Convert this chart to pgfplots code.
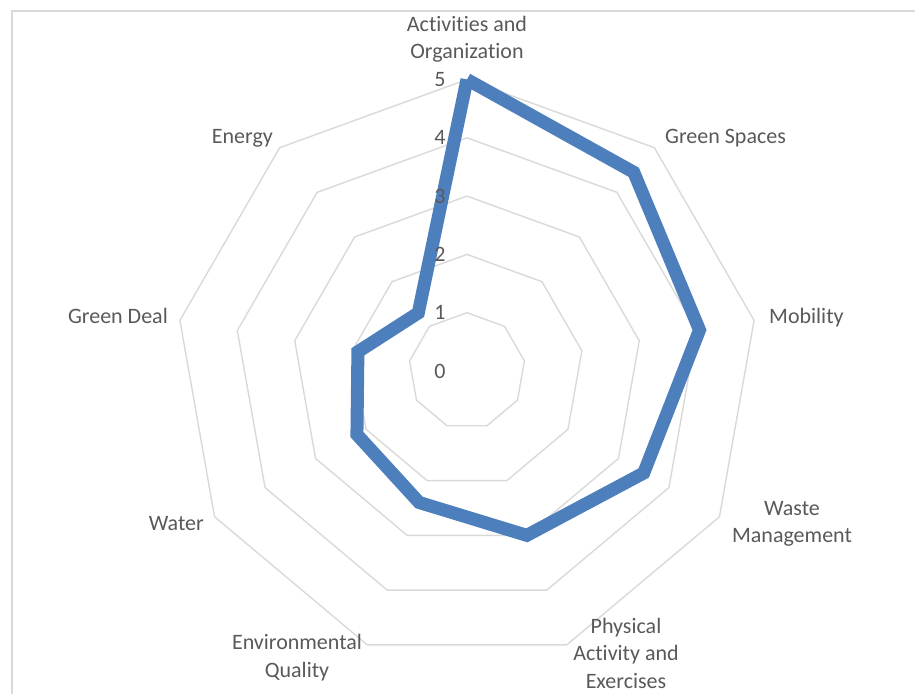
\documentclass[border=0pt]{standalone}
\usepackage{fontspec}
\setmainfont{Carlito}[Ligatures=NoCommon]
\usepackage{pgfplots}
\pgfplotsset{compat=1.18}
\usepgfplotslibrary{polar}
\definecolor{txt}{HTML}{595959}
\definecolor{gridc}{HTML}{D9D9D9}
\definecolor{serie}{HTML}{4E7FBD}
\begin{document}
\begin{tikzpicture}[lbl/.style={text=txt,font=\fontsize{22}{27}\selectfont,inner sep=0pt}]
\useasboundingbox (0,0) rectangle (915pt,693pt);
\draw[gridc,line width=1.2pt] (12pt,-20pt) rectangle (940pt,682pt);
\begin{polaraxis}[
  at={(467pt,322pt)}, anchor=center,
  scale only axis, width=583pt, height=583pt,
  ymin=0, ymax=5, hide axis, clip=false,
]
\foreach \r in {1,2,3,4,5}{
  \addplot[gridc, line width=1.4pt, line join=miter, no markers] coordinates {(90,\r)(130,\r)(170,\r)(210,\r)(250,\r)(290,\r)(330,\r)(10,\r)(50,\r)(90,\r)(130,\r)};
}
\addplot[serie, line width=13pt, line join=miter, miter limit=10, no markers] coordinates {
(90,5) (50,4.45) (10,4.05) (330,3.5) (290,3.0) (250,2.4) (210,2.18) (170,1.9) (130,1.3) (90,5)
};
\end{polaraxis}
% radial value labels
\foreach \k in {0,...,5}{
  \pgfmathsetmacro{\yy}{322+58.3*\k}
  \node[lbl] at (440pt,\yy pt) {\k};
}
% category labels
\node[lbl,anchor=base] at (467pt,661pt) {Activities and};
\node[lbl,anchor=base] at (467pt,634pt) {Organization};
\node[lbl,anchor=base west] at (665pt,549pt) {Green Spaces};
\node[lbl,anchor=base east] at (273pt,549pt) {Energy};
\node[lbl,anchor=base west] at (769pt,369pt) {Mobility};
\node[lbl,anchor=base east] at (168pt,369pt) {Green Deal};
\node[lbl,anchor=base] at (792pt,177pt) {Waste};
\node[lbl,anchor=base] at (792pt,150pt) {Management};
\node[lbl,anchor=base east] at (204pt,162pt) {Water};
\node[lbl,anchor=base] at (626pt,59pt) {Physical};
\node[lbl,anchor=base] at (626pt,32pt) {Activity and};
\node[lbl,anchor=base] at (626pt,5pt) {Exercises};
\node[lbl,anchor=base] at (297pt,43pt) {Environmental};
\node[lbl,anchor=base] at (297pt,16pt) {Quality};
\end{tikzpicture}
\end{document}
